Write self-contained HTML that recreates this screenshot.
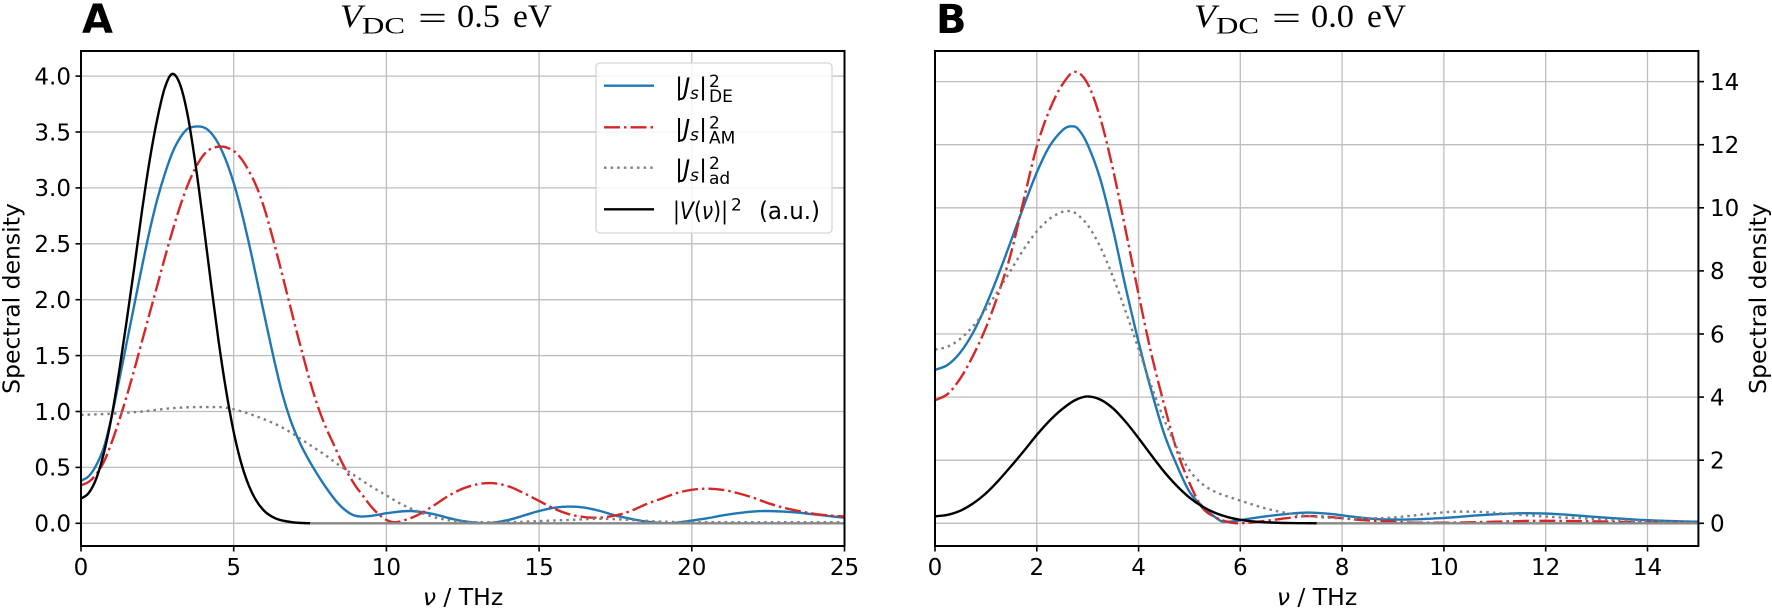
<!DOCTYPE html>
<html><head><meta charset="utf-8"><style>html,body{margin:0;padding:0;background:#fff;}svg{display:block;}</style></head>
<body>
<svg id="fig" width="1772" height="610" viewBox="0 0 1772 610" xmlns="http://www.w3.org/2000/svg" font-family="'DejaVu Sans', sans-serif">
<defs>
<clipPath id="cA"><rect x="81" y="51" width="763.5" height="495"/></clipPath>
<clipPath id="cB"><rect x="935" y="51" width="763.4" height="495"/></clipPath>
</defs>
<rect width="1772" height="610" fill="#fff"/>

<!-- Grid A -->
<g stroke="#bdbdbd" stroke-width="1.3">
<line x1="233.7" y1="51" x2="233.7" y2="546"/><line x1="386.4" y1="51" x2="386.4" y2="546"/><line x1="539.1" y1="51" x2="539.1" y2="546"/><line x1="691.8" y1="51" x2="691.8" y2="546"/>
<line x1="81" y1="523.3" x2="844.5" y2="523.3"/><line x1="81" y1="467.4" x2="844.5" y2="467.4"/><line x1="81" y1="411.5" x2="844.5" y2="411.5"/><line x1="81" y1="355.6" x2="844.5" y2="355.6"/><line x1="81" y1="299.7" x2="844.5" y2="299.7"/><line x1="81" y1="243.8" x2="844.5" y2="243.8"/><line x1="81" y1="187.9" x2="844.5" y2="187.9"/><line x1="81" y1="132" x2="844.5" y2="132"/><line x1="81" y1="76.1" x2="844.5" y2="76.1"/>
</g>
<!-- Grid B -->
<g stroke="#bdbdbd" stroke-width="1.3">
<line x1="1036.8" y1="51" x2="1036.8" y2="546"/><line x1="1138.6" y1="51" x2="1138.6" y2="546"/><line x1="1240.3" y1="51" x2="1240.3" y2="546"/><line x1="1342.1" y1="51" x2="1342.1" y2="546"/><line x1="1443.9" y1="51" x2="1443.9" y2="546"/><line x1="1545.7" y1="51" x2="1545.7" y2="546"/><line x1="1647.5" y1="51" x2="1647.5" y2="546"/>
<line x1="935" y1="523.3" x2="1698.4" y2="523.3"/><line x1="935" y1="460.2" x2="1698.4" y2="460.2"/><line x1="935" y1="397.1" x2="1698.4" y2="397.1"/><line x1="935" y1="334" x2="1698.4" y2="334"/><line x1="935" y1="270.9" x2="1698.4" y2="270.9"/><line x1="935" y1="207.8" x2="1698.4" y2="207.8"/><line x1="935" y1="144.7" x2="1698.4" y2="144.7"/><line x1="935" y1="81.6" x2="1698.4" y2="81.6"/>
</g>

<!-- Curves A -->
<g clip-path="url(#cA)">
<g transform="matrix(30.54 0 0 -111.8 81 523.3)" fill="none" stroke-width="2.4" stroke-linejoin="round">
<polyline class="sm" vector-effect="non-scaling-stroke" stroke="#1f77b4" points="0,0.38 0.25,0.42 0.5,0.52 0.75,0.68 1,0.95 1.25,1.28 1.5,1.62 1.75,1.96 2,2.3 2.25,2.62 2.5,2.9 2.75,3.13 3,3.32 3.25,3.45 3.5,3.53 3.84,3.55 4.1,3.53 4.35,3.46 4.6,3.34 4.85,3.17 5.1,2.95 5.35,2.68 5.6,2.38 5.85,2.06 6.1,1.74 6.35,1.43 6.6,1.15 6.85,0.93 7.1,0.76 7.35,0.62 7.6,0.5 7.85,0.39 8.1,0.29 8.35,0.2 8.6,0.13 8.9,0.075 9.2,0.06 9.6,0.07 10,0.09 10.75,0.11 11.5,0.085 12,0.05 12.5,0.02 13.25,0 14,0.03 14.5,0.07 15,0.11 15.5,0.14 16,0.15 16.5,0.14 17,0.11 17.5,0.07 18,0.04 18.5,0.015 19.25,0 20,0.025 20.5,0.045 21,0.07 21.5,0.09 22,0.105 22.4,0.11 23,0.105 23.5,0.095 24,0.08 24.5,0.065 25,0.05"/>
<polyline class="sm" vector-effect="non-scaling-stroke" stroke="#d62728" stroke-dasharray="16 4 2.5 4" points="0,0.34 0.25,0.37 0.5,0.44 0.75,0.55 1,0.72 1.25,0.92 1.5,1.14 1.75,1.38 2,1.63 2.25,1.88 2.5,2.13 2.75,2.38 3,2.62 3.25,2.84 3.5,3.03 3.75,3.18 4,3.29 4.25,3.35 4.6,3.37 5,3.33 5.25,3.26 5.5,3.15 5.75,3.01 6,2.82 6.25,2.58 6.5,2.32 6.75,2.05 7,1.78 7.25,1.52 7.5,1.27 7.75,1.05 8,0.87 8.25,0.72 8.5,0.57 8.75,0.44 9,0.33 9.25,0.24 9.5,0.15 9.75,0.08 10,0.03 10.25,0.01 10.5,0.02 11,0.07 11.5,0.15 12,0.24 12.5,0.31 13,0.35 13.4,0.36 14,0.33 14.5,0.27 15,0.2 15.5,0.13 16,0.08 16.5,0.055 16.9,0.05 17.5,0.07 18,0.11 18.5,0.17 19,0.22 19.5,0.27 20,0.3 20.5,0.31 21,0.3 21.5,0.27 22,0.23 22.5,0.18 23,0.14 23.5,0.11 24,0.085 24.5,0.07 25,0.06"/>
<polyline class="sm" vector-effect="non-scaling-stroke" stroke="#7f7f7f" stroke-dasharray="2.5 4.1" points="0,0.97 1,0.98 2,1 3,1.03 4,1.04 4.5,1.04 5,1.02 5.5,0.98 6,0.93 6.5,0.87 7,0.79 7.5,0.7 8,0.61 8.5,0.51 9,0.42 9.5,0.33 10,0.25 10.5,0.17 11,0.11 11.5,0.06 12,0.03 12.5,0.015 13,0.01 14,0.01 15,0.02 16,0.03 17,0.04 18,0.03 19,0.015 20,0.01 25,0.01"/>
<polyline vector-effect="non-scaling-stroke" stroke="#888" points="7.3,0 25,0"/>
<polyline class="sm" vector-effect="non-scaling-stroke" stroke="#000" points="0,0.22 0.25,0.27 0.5,0.4 0.75,0.63 1,0.95 1.25,1.36 1.5,1.82 1.75,2.3 2,2.8 2.25,3.25 2.5,3.62 2.75,3.9 3,4.02 3.25,3.92 3.5,3.64 3.75,3.21 4,2.7 4.25,2.16 4.5,1.64 4.75,1.19 5,0.817 5.25,0.535 5.5,0.334 5.75,0.198 6,0.111 6.25,0.06 6.5,0.031 7,0.007 7.5,0.001"/>
</g>
</g>

<!-- Curves B -->
<g clip-path="url(#cB)">
<g transform="matrix(50.89 0 0 -31.55 935 523.3)" fill="none" stroke-width="2.4" stroke-linejoin="round">
<polyline class="sm" vector-effect="non-scaling-stroke" stroke="#1f77b4" points="0,4.86 0.25,5.02 0.5,5.42 0.75,6.05 1,6.9 1.25,7.9 1.5,8.98 1.75,10.08 2,11.12 2.25,11.95 2.5,12.45 2.65,12.58 2.8,12.52 3,12 3.25,10.9 3.5,9.3 3.75,7.45 4,5.75 4.2,4.5 4.5,2.85 4.75,1.85 5,1 5.25,0.55 5.5,0.2 5.67,0.05 5.85,0.06 6,0.1 6.5,0.22 7,0.31 7.33,0.34 7.75,0.3 8.25,0.2 8.7,0.13 9.25,0.12 10,0.17 10.75,0.26 11.63,0.32 12.25,0.29 13,0.2 13.75,0.12 14.5,0.07 15,0.05"/>
<polyline class="sm" vector-effect="non-scaling-stroke" stroke="#d62728" stroke-dasharray="16 4 2.5 4" points="0,3.9 0.25,4.1 0.5,4.6 0.75,5.32 1,6.2 1.25,7.3 1.5,8.6 1.75,10.3 2,11.94 2.25,13.1 2.5,13.9 2.75,14.31 3,13.93 3.25,12.83 3.5,11.2 3.75,9.26 4,7.26 4.25,5.38 4.5,3.78 4.75,2.32 5,1.28 5.25,0.5 5.5,0.2 5.75,0.05 5.96,0 6.25,0.03 6.5,0.08 7,0.18 7.33,0.23 7.75,0.2 8.25,0.12 9,0.05 9.5,0.02 10,0.02 11,0.05 11.9,0.08 13,0.06 14,0.03 15,0.01"/>
<polyline class="sm" vector-effect="non-scaling-stroke" stroke="#7f7f7f" stroke-dasharray="2.5 4.1" points="0,5.5 0.25,5.6 0.5,5.85 0.75,6.25 1,6.78 1.25,7.4 1.5,8.05 1.75,8.7 2,9.25 2.25,9.65 2.5,9.87 2.6,9.9 2.75,9.84 3,9.45 3.25,8.75 3.5,7.8 3.75,6.7 4,5.53 4.25,4.36 4.5,3.3 4.75,2.41 5,1.68 5.25,1.25 5.5,1 5.75,0.85 6,0.72 6.5,0.47 7,0.3 7.5,0.2 8,0.16 8.7,0.16 9.25,0.22 9.75,0.31 10.27,0.37 10.75,0.36 11.25,0.3 11.75,0.24 12.25,0.19 12.7,0.16 13.25,0.11 13.75,0.07 14.25,0.04 15,0.02"/>
<polyline vector-effect="non-scaling-stroke" stroke="#888" points="7.3,0 15,0"/>
<polyline class="sm" vector-effect="non-scaling-stroke" stroke="#000" points="0,0.22 0.25,0.27 0.5,0.4 0.75,0.63 1,0.95 1.25,1.36 1.5,1.82 1.75,2.3 2,2.8 2.25,3.25 2.5,3.62 2.75,3.9 3,4.02 3.25,3.92 3.5,3.64 3.75,3.21 4,2.7 4.25,2.16 4.5,1.64 4.75,1.19 5,0.817 5.25,0.535 5.5,0.334 5.75,0.198 6,0.111 6.25,0.06 6.5,0.031 7,0.007 7.5,0.001"/>
</g>
</g>

<!-- Spines -->
<rect x="81" y="51" width="763.5" height="495" fill="none" stroke="#000" stroke-width="2"/>
<rect x="935" y="51" width="763.4" height="495" fill="none" stroke="#000" stroke-width="2"/>

<!-- Ticks -->
<g stroke="#000" stroke-width="1.6">
<line x1="75.5" y1="523.3" x2="81" y2="523.3"/><line x1="75.5" y1="467.4" x2="81" y2="467.4"/><line x1="75.5" y1="411.5" x2="81" y2="411.5"/><line x1="75.5" y1="355.6" x2="81" y2="355.6"/><line x1="75.5" y1="299.7" x2="81" y2="299.7"/><line x1="75.5" y1="243.8" x2="81" y2="243.8"/><line x1="75.5" y1="187.9" x2="81" y2="187.9"/><line x1="75.5" y1="132" x2="81" y2="132"/><line x1="75.5" y1="76.1" x2="81" y2="76.1"/>
<line x1="81" y1="546" x2="81" y2="551.5"/><line x1="233.7" y1="546" x2="233.7" y2="551.5"/><line x1="386.4" y1="546" x2="386.4" y2="551.5"/><line x1="539.1" y1="546" x2="539.1" y2="551.5"/><line x1="691.8" y1="546" x2="691.8" y2="551.5"/><line x1="844.5" y1="546" x2="844.5" y2="551.5"/>
<line x1="935" y1="546" x2="935" y2="551.5"/><line x1="1036.8" y1="546" x2="1036.8" y2="551.5"/><line x1="1138.6" y1="546" x2="1138.6" y2="551.5"/><line x1="1240.3" y1="546" x2="1240.3" y2="551.5"/><line x1="1342.1" y1="546" x2="1342.1" y2="551.5"/><line x1="1443.9" y1="546" x2="1443.9" y2="551.5"/><line x1="1545.7" y1="546" x2="1545.7" y2="551.5"/><line x1="1647.5" y1="546" x2="1647.5" y2="551.5"/>
<line x1="1698.4" y1="523.3" x2="1704" y2="523.3"/><line x1="1698.4" y1="460.2" x2="1704" y2="460.2"/><line x1="1698.4" y1="397.1" x2="1704" y2="397.1"/><line x1="1698.4" y1="334" x2="1704" y2="334"/><line x1="1698.4" y1="270.9" x2="1704" y2="270.9"/><line x1="1698.4" y1="207.8" x2="1704" y2="207.8"/><line x1="1698.4" y1="144.7" x2="1704" y2="144.7"/><line x1="1698.4" y1="81.6" x2="1704" y2="81.6"/>
</g>

<!-- Tick labels -->
<g font-size="23" fill="#000">
<g text-anchor="end">
<text x="71" y="531.6">0.0</text><text x="71" y="475.7">0.5</text><text x="71" y="419.8">1.0</text><text x="71" y="363.9">1.5</text><text x="71" y="308">2.0</text><text x="71" y="252.1">2.5</text><text x="71" y="196.2">3.0</text><text x="71" y="140.3">3.5</text><text x="71" y="84.4">4.0</text>
</g>
<g text-anchor="middle">
<text x="81" y="575">0</text><text x="233.7" y="575">5</text><text x="386.4" y="575">10</text><text x="539.1" y="575">15</text><text x="691.8" y="575">20</text><text x="844.5" y="575">25</text>
<text x="935" y="575">0</text><text x="1036.8" y="575">2</text><text x="1138.6" y="575">4</text><text x="1240.3" y="575">6</text><text x="1342.1" y="575">8</text><text x="1443.9" y="575">10</text><text x="1545.7" y="575">12</text><text x="1647.5" y="575">14</text>
</g>
<g text-anchor="start">
<text x="1710" y="531.6">0</text><text x="1710" y="468.5">2</text><text x="1710" y="405.4">4</text><text x="1710" y="342.3">6</text><text x="1710" y="279.2">8</text><text x="1710" y="216.1">10</text><text x="1710" y="153">12</text><text x="1710" y="89.9">14</text>
</g>
</g>

<!-- Axis labels -->
<g font-size="23.5" fill="#000">
<text x="463" y="605" text-anchor="middle"><tspan font-style="italic">ν</tspan> / THz</text>
<text x="1317" y="605" text-anchor="middle"><tspan font-style="italic">ν</tspan> / THz</text>
<text transform="translate(19.5,298.5) rotate(-90)" text-anchor="middle">Spectral density</text>
<text transform="translate(1766,298.5) rotate(-90)" text-anchor="middle">Spectral density</text>
</g>

<!-- Panel letters -->
<text x="82" y="33" font-size="40" font-weight="bold" font-family="'DejaVu Sans', sans-serif">A</text>
<text x="936" y="33" font-size="40" font-weight="bold" font-family="'DejaVu Sans', sans-serif">B</text>

<!-- Titles -->
<g font-family="'Liberation Serif', serif" fill="#000">
<text x="340" y="27" font-size="33" font-style="italic" textLength="22" lengthAdjust="spacingAndGlyphs">V</text>
<text x="362" y="33.5" font-size="23" textLength="43" lengthAdjust="spacingAndGlyphs">DC</text>
<text x="418" y="29" font-size="33" textLength="29" lengthAdjust="spacingAndGlyphs">=</text>
<text x="457" y="27" font-size="33" textLength="43" lengthAdjust="spacingAndGlyphs">0.5</text>
<text x="513" y="27" font-size="33" textLength="39" lengthAdjust="spacingAndGlyphs">eV</text>

<text x="1194" y="27" font-size="33" font-style="italic" textLength="22" lengthAdjust="spacingAndGlyphs">V</text>
<text x="1216" y="33.5" font-size="23" textLength="43" lengthAdjust="spacingAndGlyphs">DC</text>
<text x="1272" y="29" font-size="33" textLength="29" lengthAdjust="spacingAndGlyphs">=</text>
<text x="1311" y="27" font-size="33" textLength="43" lengthAdjust="spacingAndGlyphs">0.0</text>
<text x="1367" y="27" font-size="33" textLength="39" lengthAdjust="spacingAndGlyphs">eV</text>
</g>

<!-- Legend -->
<rect x="596" y="63" width="236" height="170" rx="4" ry="4" fill="#fff" fill-opacity="0.82" stroke="#d6d6d6" stroke-width="1.3"/>
<g fill="none" stroke-width="2.4">
<line x1="604" y1="85.7" x2="654" y2="85.7" stroke="#1f77b4"/>
<line x1="604" y1="127.3" x2="654" y2="127.3" stroke="#d62728" stroke-dasharray="16 4 2.5 4"/>
<line x1="604" y1="167.7" x2="654" y2="167.7" stroke="#7f7f7f" stroke-dasharray="2.5 4.1"/>
<line x1="604" y1="209.3" x2="654" y2="209.3" stroke="#000"/>
</g>
<g fill="#000" font-size="24">
<text x="675" y="95">|<tspan font-style="italic">J</tspan></text><text x="690" y="99" font-size="17" font-style="italic">s</text><text x="699" y="95">|</text><text x="709" y="87" font-size="17">2</text><text x="709" y="102" font-size="17">DE</text>
<text x="675" y="136.6">|<tspan font-style="italic">J</tspan></text><text x="690" y="140.6" font-size="17" font-style="italic">s</text><text x="699" y="136.6">|</text><text x="709" y="128.6" font-size="17">2</text><text x="709" y="143.6" font-size="17">AM</text>
<text x="675" y="177">|<tspan font-style="italic">J</tspan></text><text x="690" y="181" font-size="17" font-style="italic">s</text><text x="699" y="177">|</text><text x="709" y="169" font-size="17">2</text><text x="709" y="184" font-size="17">ad</text>
<text x="673" y="219" textLength="55" lengthAdjust="spacingAndGlyphs">|<tspan font-style="italic">V</tspan>(<tspan font-style="italic">ν</tspan>)|</text><text x="731" y="210.5" font-size="17">2</text><text x="759" y="219" textLength="61" lengthAdjust="spacingAndGlyphs">(a.u.)</text>
</g>
</svg>
<script>
(function(){
  var NS="http://www.w3.org/2000/svg";
  var pls=document.querySelectorAll("polyline.sm");
  for(var k=0;k<pls.length;k++){
    var pl=pls[k];
    var raw=pl.getAttribute("points").trim().split(/\s+/);
    var X=[],Y=[];
    for(var i=0;i<raw.length;i++){var p=raw[i].split(",");X.push(parseFloat(p[0]));Y.push(parseFloat(p[1]));}
    var n=X.length,M=[];
    for(var i=0;i<n;i++){
      var m;
      if(i===0){m=(Y[1]-Y[0])/(X[1]-X[0]);}
      else if(i===n-1){m=(Y[n-1]-Y[n-2])/(X[n-1]-X[n-2]);}
      else{
        var s0=(Y[i]-Y[i-1])/(X[i]-X[i-1]), s1=(Y[i+1]-Y[i])/(X[i+1]-X[i]);
        if(s0*s1<=0){m=0;}else{m=(Y[i+1]-Y[i-1])/(X[i+1]-X[i-1]);}
      }
      M.push(m);
    }
    var d="M"+X[0]+" "+Y[0];
    for(var i=0;i<n-1;i++){
      var h=X[i+1]-X[i];
      d+=" C"+(X[i]+h/3)+" "+(Y[i]+M[i]*h/3)+" "+(X[i+1]-h/3)+" "+(Y[i+1]-M[i+1]*h/3)+" "+X[i+1]+" "+Y[i+1];
    }
    var path=document.createElementNS(NS,"path");
    var attrs=["stroke","stroke-dasharray","vector-effect"];
    for(var a=0;a<attrs.length;a++){var v=pl.getAttribute(attrs[a]);if(v)path.setAttribute(attrs[a],v);}
    path.setAttribute("d",d);
    pl.parentNode.replaceChild(path,pl);
  }
})();
</script>
</body></html>
